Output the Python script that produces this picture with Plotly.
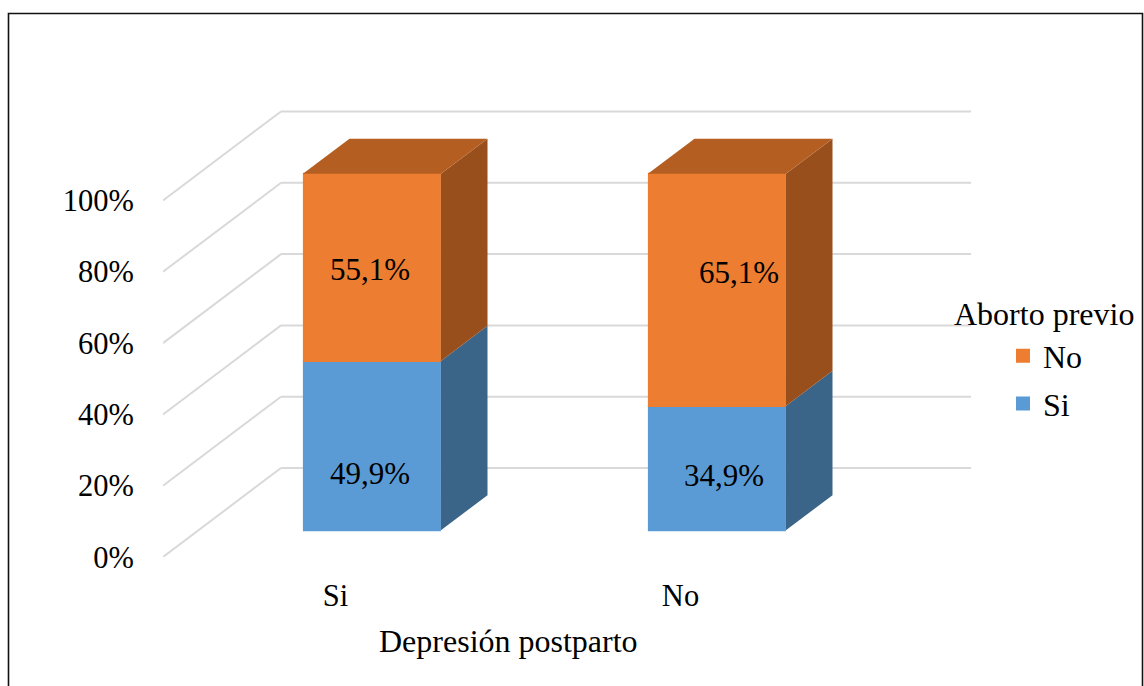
import plotly.graph_objects as go

# ---- data
categories = ["Si", "No"]
series_names = ["Si", "No"]
si_values = [49.9, 34.9]
no_values = [55.1, 65.1]
si_labels = ["49,9%", "34,9%"]
no_labels = ["55,1%", "65,1%"]
y_ticks = [0, 20, 40, 60, 80, 100]
y_tick_labels = ["0%", "20%", "40%", "60%", "80%", "100%"]

# ---- style and layout
W, H = 1144, 686
L, R, T, B = 163, 975, 100, 557      # plot-area pixel box
PX_PER_CAT = 345.0
PX_PER_PCT = 3.565
DEPTH_PX_X, DEPTH_PX_Y = 118.0, 89.0
DX = DEPTH_PX_X / PX_PER_CAT         # full floor depth in x units
DY = DEPTH_PX_Y / PX_PER_PCT         # full floor depth in y units
D_FRONT, D_BACK = 0.3, 0.695         # bar depth span as a share of the floor
BAR_W = 0.4
BAR_SHIFT = 1 / PX_PER_CAT
EDGE_PX = 2
X0 = -0.5
FONT = "Liberation Serif"
FS_TICK = 30.5
FS_LABEL = 31
FS_TITLE = 32
GRID = "#D9D9D9"
COL = {
    "Si": {"front": "#5B9BD5", "side": "#3A6488", "top": "#3E6E9B"},
    "No": {"front": "#ED7D31", "side": "#984F1C", "top": "#B55E22"},
}
# pixel nudges of the data labels from their segment centres
SHIFT = {"Si": [(-2, -28), (7, -7)], "No": [(-2, -2), (22, 17)]}


def proj(x, y, d):
    return x + d * DX, y + d * DY


def poly(color, pts):
    return go.Scatter(
        x=[p[0] for p in pts] + [pts[0][0]],
        y=[p[1] for p in pts] + [pts[0][1]],
        mode="lines", fill="toself", fillcolor=color,
        line=dict(width=0, color=color),
        showlegend=False, hoverinfo="skip",
    )


fig = go.Figure()
annotations = []
shapes = []

# back wall and side wall gridlines
for t in y_ticks:
    x_front, y_front = proj(X0, t, 0)
    x_back, y_back = proj(X0, t, 1)
    x_far, _ = proj(X0 + 2, t, 1)
    shapes.append(dict(type="line", xref="x", yref="y", layer="below",
                       x0=x_front, y0=y_front, x1=x_back, y1=y_back,
                       line=dict(color=GRID, width=2)))
    shapes.append(dict(type="line", xref="x", yref="y", layer="below",
                       x0=x_back, y0=y_back, x1=x_far, y1=y_back,
                       line=dict(color=GRID, width=2)))

# normalise the two stacked values to a 100 % column
totals = [a + b for a, b in zip(si_values, no_values)]
stack = {
    "Si": [v / t * 100 for v, t in zip(si_values, totals)],
    "No": [v / t * 100 for v, t in zip(no_values, totals)],
}
labels = {"Si": si_labels, "No": no_labels}

# front faces
cum = [0.0, 0.0]
bases = {}
for name in series_names:
    bases[name] = list(cum)
    fig.add_trace(go.Bar(
        x=[proj(i + BAR_SHIFT, 0, D_FRONT)[0] for i in range(len(categories))],
        y=stack[name],
        base=[proj(0, c, D_FRONT)[1] for c in cum],
        width=BAR_W - EDGE_PX / PX_PER_CAT,
        name=name,
        legendgroup=name,
        legendrank=2 if name == "Si" else 1,
        marker=dict(color=COL[name]["front"], line=dict(width=EDGE_PX, color=COL[name]["front"])),
        hoverinfo="skip",
    ))
    cum = [c + v for c, v in zip(cum, stack[name])]

# side and top faces
for name in series_names:
    for i in range(len(categories)):
        lo = bases[name][i]
        hi = lo + stack[name][i]
        xr = i + BAR_SHIFT + BAR_W / 2
        xl = i + BAR_SHIFT - BAR_W / 2
        fig.add_trace(poly(COL[name]["side"], [
            proj(xr, lo, D_FRONT), proj(xr, lo, D_BACK),
            proj(xr, hi, D_BACK), proj(xr, hi, D_FRONT)]))
        if name == series_names[-1]:
            fig.add_trace(poly(COL[name]["top"], [
                proj(xl, hi, D_FRONT), proj(xl, hi, D_BACK),
                proj(xr, hi, D_BACK), proj(xr, hi, D_FRONT)]))
        xc, yc = proj(i + BAR_SHIFT, lo + stack[name][i] / 2, D_FRONT)
        sx, sy = SHIFT[name][i]
        annotations.append(dict(
            x=xc, y=yc, xref="x", yref="y", text=labels[name][i],
            xanchor="center", yanchor="middle",
            showarrow=False, xshift=sx, yshift=sy,
            font=dict(family=FONT, size=FS_LABEL, color="black")))

fx = lambda px: (px - L) / (R - L)
fy = lambda py: (B - py) / (B - T)

# axis title and legend title
annotations.append(dict(
    x=0.5, xref="x", y=fy(641), yref="paper", text="Depresión postparto",
    xanchor="center", yanchor="middle",
    showarrow=False, font=dict(family=FONT, size=FS_TITLE, color="black")))
annotations.append(dict(
    x=fx(1044), xref="paper", y=fy(314), yref="paper",
    text="Aborto previo", xanchor="center", yanchor="middle", showarrow=False,
    font=dict(family=FONT, size=FS_TITLE, color="black")))

# outer frame (open at the bottom, as cropped in the picture)
shapes.append(dict(
    type="path", xref="paper", yref="paper", layer="above",
    path=f"M{fx(8.5)},{fy(700)} L{fx(8.5)},{fy(13.5)} L{fx(1142.5)},{fy(13.5)} L{fx(1142.5)},{fy(700)}",
    line=dict(color="#111111", width=1.6)))

fig.update_layout(
    width=W, height=H,
    margin=dict(l=L, r=W - R, t=T, b=H - B, pad=0),
    paper_bgcolor="white", plot_bgcolor="white",
    barmode="overlay",
    font=dict(family=FONT, size=FS_TICK, color="black"),
    xaxis=dict(range=[X0, X0 + (R - L) / PX_PER_CAT], tickvals=list(range(len(categories))),
               ticktext=categories, showgrid=False, zeroline=False, showline=False,
               ticks="", ticklabelstandoff=17, fixedrange=True),
    yaxis=dict(range=[0, (B - T) / PX_PER_PCT], tickvals=y_ticks, ticktext=y_tick_labels,
               showgrid=False, zeroline=False, showline=False, ticks="",
               ticklabelstandoff=28, fixedrange=True),
    legend=dict(x=fx(1003), xanchor="left", y=fy(328.5), yanchor="top",
                tracegroupgap=3, bgcolor="rgba(0,0,0,0)", itemwidth=30,
                font=dict(family=FONT, size=FS_TITLE, color="black")),
    annotations=annotations, shapes=shapes,
)

fig.write_html("out.html", config={"displayModeBar": False},
               post_script="document.body.style.margin='0';")
